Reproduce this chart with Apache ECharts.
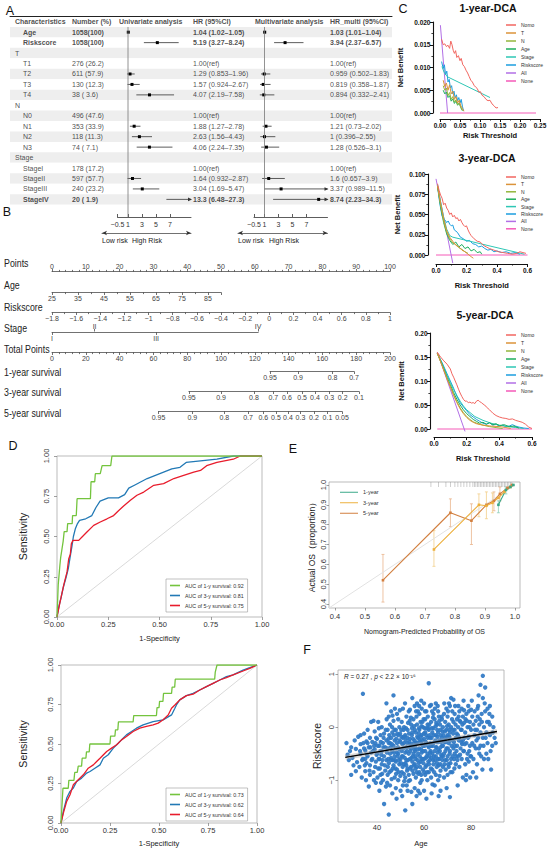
<!DOCTYPE html>
<html>
<head>
<meta charset="UTF-8">
<title>Prognostic model figure</title>
<script src="https://cdn.jsdelivr.net/npm/echarts@6/dist/echarts.min.js"></script>
<style>
  html, body { margin: 0; padding: 0; background: #fff; }
  #chart { width: 550px; height: 850px; }
</style>
</head>
<body>
<div id="chart"></div>
<script>
// ---- A: cox regression table ----
const rowNames = ['Age','Riskscore','T','T1','T2','T3','T4','N','N0','N1','N2','N3','Stage','StageI','StageII','StageIII','StageIV'];
const rowNumbers = ['1058(100)','1058(100)','','276 (26.2)','611 (57.9)','130 (12.3)','38 ( 3.6)','','496 (47.6)','353 (33.9)','118 (11.3)','74 ( 7.1)','','178 (17.2)','597 (57.7)','240 (23.2)','20 ( 1.9)'];
const boldRows = ['Age','Riskscore','StageIV'];
const refRows = ['T1','N0','StageI'];
const uniHR = [1.04,5.19,null,null,1.29,1.57,4.07,null,null,1.88,2.63,4.06,null,null,1.64,3.04,13.3];
const uniLo = [1.02,3.27,null,null,0.853,0.924,2.19,null,null,1.27,1.56,2.24,null,null,0.932,1.69,6.48];
const uniHi = [1.05,8.24,null,null,1.96,2.67,7.58,null,null,2.78,4.43,7.35,null,null,2.87,5.47,27.3];
const mulHR = [1.03,3.94,null,null,0.959,0.819,0.894,null,null,1.21,1,1.28,null,null,1.6,3.37,8.74];
const mulLo = [1.01,2.37,null,null,0.502,0.358,0.332,null,null,0.73,0.396,0.526,null,null,0.657,0.989,2.23];
const mulHi = [1.04,6.57,null,null,1.83,1.87,2.41,null,null,2.02,2.55,3.1,null,null,3.9,11.5,34.3];
const forestTicks = [-0.5,1,3,5,7];
const headers = ['Characteristics','Number (%)','Univariate analysis','HR (95%CI)','Multivariate analysis','HR_multi (95%CI)'];

// ---- B: nomogram ----
const nomoRows = ['Points','Age','Riskscore','Stage','Total Points','1-year survival','3-year survival','5-year survival'];
const ageRange = [25, 90];
const agePoints = 50;
const riskRange = [-1.8, 1];
const stageLabels = ['I','II','III','IV'];
const stagePoints = [0, 12.6, 30.8, 61];
const surv1Labels = ['0.95','0.9','0.8','0.7'];
const surv1Total = [129, 145.6, 166, 178.7];
const surv3Labels = ['0.95','0.9','0.8','0.7','0.6','0.5','0.4','0.3','0.2','0.1'];
const surv3Total = [81, 100, 119.5, 131, 139, 148, 155.6, 164, 172, 181.6];
const surv5Labels = ['0.95','0.9','0.8','0.7','0.6','0.5','0.4','0.3','0.2','0.1','0.05'];
const surv5Total = [63, 83, 102, 116, 125, 132.5, 139.6, 147, 155, 163, 171.6];

// ---- C: decision curves ----
const dcaNames = ['Nomo','T','N','Age','Stage','Riskscore','All','None'];
const dcaColors = ['#F26660','#DB933A','#93B63C','#1DAE5E','#2EC7B5','#1C9EDF','#B26FE6','#F55AB8'];
const d1Nomo = [[0.004,0.0162],[0.008,0.0150],[0.012,0.0152],[0.016,0.0146],[0.02,0.0149],[0.024,0.0142],[0.027,0.0158],[0.03,0.0150],[0.033,0.0138],[0.036,0.0131],[0.039,0.0137],[0.042,0.0122],[0.046,0.0126],[0.05,0.0115],[0.053,0.0120],[0.057,0.0106],[0.061,0.0102],[0.065,0.0094],[0.069,0.0088],[0.073,0.0080],[0.077,0.0072],[0.081,0.0068],[0.085,0.0061],[0.089,0.0057],[0.093,0.0054],[0.097,0.0046],[0.101,0.0047],[0.105,0.0039],[0.11,0.0036],[0.115,0.0030],[0.12,0.0027],[0.125,0.0028],[0.13,0.0020],[0.135,0.0016],[0.14,0.0011],[0.145,0.0012]];
const d1T = [[0.008,0.0072],[0.012,0.0058],[0.016,0.0066],[0.02,0.0050],[0.024,0.0062],[0.028,0.0042],[0.032,0.0048],[0.036,0.0030],[0.04,0.0036],[0.044,0.0022],[0.048,0.0028],[0.052,0.0016],[0.056,0.0010],[0.06,0.0004]];
const d1N = [[0.008,0.0060],[0.012,0.0050],[0.016,0.0055],[0.02,0.0038],[0.024,0.0045],[0.028,0.0030],[0.032,0.0036],[0.036,0.0024],[0.04,0.0029],[0.044,0.0018],[0.048,0.0022],[0.052,0.0012],[0.056,0.0006]];
const d1Age = [[0.008,0.0050],[0.012,0.0042],[0.016,0.0046],[0.02,0.0034],[0.024,0.0038],[0.028,0.0026],[0.032,0.0031],[0.036,0.0021],[0.04,0.0026],[0.044,0.0017],[0.048,0.0022],[0.052,0.0012],[0.056,0.0005]];
const d1Stage = [[0.005,0.0102],[0.01,0.0090],[0.015,0.0083],[0.02,0.0079],[0.125,0.0034]];
const d1Risk = [[0.004,0.0113],[0.008,0.0098],[0.011,0.0106],[0.014,0.0084],[0.017,0.0092],[0.02,0.0068],[0.023,0.0074],[0.026,0.0055],[0.029,0.0060],[0.032,0.0042],[0.035,0.0048],[0.038,0.0033],[0.041,0.0040],[0.044,0.0027],[0.047,0.0034],[0.05,0.0022],[0.053,0.0030],[0.056,0.0015],[0.059,0.0004]];
const d1All = [[0.001,0.0193],[0.019,0]];
const d1None = [[0,0],[0.24,0]];

const d3Nomo = [[0.01,0.088],[0.02,0.08],[0.03,0.074],[0.04,0.07],[0.05,0.062],[0.06,0.064],[0.07,0.058],[0.08,0.055],[0.09,0.05],[0.1,0.052],[0.11,0.047],[0.12,0.049],[0.13,0.045],[0.14,0.046],[0.15,0.042],[0.16,0.044],[0.17,0.04],[0.18,0.037],[0.19,0.035],[0.2,0.036],[0.21,0.031],[0.22,0.027],[0.23,0.024],[0.25,0.02],[0.27,0.017],[0.29,0.016],[0.31,0.012],[0.33,0.01],[0.35,0.008],[0.38,0.006],[0.41,0.004],[0.44,0.003],[0.47,0.002],[0.5,0.001],[0.53,0.002],[0.55,0.004],[0.57,0.003],[0.59,0.002]];
const d3T = [[0.01,0.085],[0.03,0.064],[0.05,0.045],[0.07,0.03],[0.09,0.022],[0.11,0.017],[0.13,0.012],[0.15,0.01],[0.17,0.006],[0.19,0.004],[0.21,0.001],[0.23,-0.002],[0.245,-0.004]];
const d3N = [[0.01,0.085],[0.03,0.062],[0.05,0.042],[0.07,0.028],[0.09,0.02],[0.11,0.015],[0.13,0.013],[0.15,0.009],[0.17,0.007],[0.19,0.004],[0.21,0.002]];
const d3Age = [[0.01,0.085],[0.03,0.06],[0.05,0.04],[0.07,0.026],[0.09,0.018],[0.11,0.013],[0.13,0.016],[0.15,0.01],[0.17,0.013],[0.19,0.008],[0.21,0.01],[0.23,0.005],[0.25,0.007],[0.27,0.003],[0.29,0.004],[0.3,0.001]];
const d3Stage = [[0.01,0.087],[0.03,0.066],[0.05,0.047],[0.07,0.032],[0.09,0.024],[0.11,0.022],[0.58,0.001]];
const d3Risk = [[0.01,0.085],[0.02,0.07],[0.03,0.058],[0.04,0.048],[0.05,0.045],[0.06,0.043],[0.07,0.04],[0.08,0.042],[0.09,0.038],[0.1,0.036],[0.11,0.037],[0.12,0.031],[0.14,0.028],[0.16,0.022],[0.18,0.02],[0.2,0.017],[0.22,0.018],[0.24,0.014],[0.26,0.013],[0.28,0.01],[0.3,0.011],[0.32,0.008],[0.34,0.006],[0.36,0.007],[0.38,0.004],[0.4,0.005],[0.43,0.003],[0.46,0.004],[0.49,0.002],[0.52,0.003],[0.55,0.001]];
const d3All = [[0,0.094],[0.11,-0.01]];
const d3None = [[0,0],[0.6,0]];

const d5Nomo = [[0.02,0.16],[0.04,0.15],[0.06,0.142],[0.08,0.135],[0.1,0.125],[0.11,0.115],[0.12,0.108],[0.13,0.1],[0.14,0.092],[0.15,0.083],[0.16,0.075],[0.17,0.068],[0.18,0.062],[0.19,0.058],[0.2,0.058],[0.21,0.055],[0.22,0.056],[0.23,0.054],[0.24,0.055],[0.25,0.053],[0.26,0.058],[0.27,0.06],[0.28,0.057],[0.29,0.055],[0.3,0.052],[0.31,0.05],[0.32,0.046],[0.34,0.04],[0.36,0.033],[0.38,0.028],[0.4,0.025],[0.42,0.023],[0.44,0.022],[0.46,0.02],[0.48,0.021],[0.5,0.018],[0.52,0.016],[0.54,0.014],[0.56,0.01],[0.58,0.004],[0.6,0.001]];
const d5T = [[0.02,0.158],[0.05,0.132],[0.08,0.104],[0.1,0.088],[0.12,0.07],[0.14,0.055],[0.16,0.042],[0.18,0.032],[0.2,0.024],[0.22,0.018],[0.24,0.014],[0.26,0.011],[0.3,0.008],[0.35,0.006],[0.4,0.005],[0.44,0.003],[0.47,0.001]];
const d5N = [[0.02,0.158],[0.05,0.132],[0.08,0.105],[0.1,0.089],[0.12,0.072],[0.14,0.057],[0.16,0.044],[0.18,0.034],[0.2,0.026],[0.22,0.02],[0.24,0.015],[0.27,0.011],[0.3,0.008],[0.34,0.005],[0.38,0.003],[0.42,0.001]];
const d5Age = [[0.02,0.158],[0.05,0.134],[0.08,0.108],[0.1,0.092],[0.12,0.076],[0.14,0.062],[0.16,0.05],[0.18,0.04],[0.2,0.032],[0.22,0.026],[0.24,0.02],[0.26,0.016],[0.28,0.012],[0.3,0.014],[0.32,0.01],[0.34,0.013],[0.36,0.009],[0.38,0.011],[0.4,0.007],[0.43,0.009],[0.46,0.005],[0.49,0.006],[0.52,0.002]];
const d5Stage = [[0.02,0.158],[0.05,0.136],[0.08,0.112],[0.1,0.097],[0.12,0.082],[0.14,0.07],[0.16,0.058],[0.18,0.048],[0.2,0.04],[0.25,0.026],[0.3,0.018],[0.35,0.012],[0.4,0.008],[0.45,0.005],[0.5,0.003],[0.55,0.001]];
const d5Risk = [[0.02,0.158],[0.05,0.138],[0.08,0.115],[0.1,0.1],[0.12,0.085],[0.14,0.068],[0.16,0.055],[0.18,0.046],[0.2,0.038],[0.22,0.03],[0.24,0.025],[0.26,0.02],[0.28,0.016],[0.3,0.012],[0.32,0.01],[0.34,0.013],[0.36,0.008],[0.38,0.01],[0.4,0.006],[0.42,0.008],[0.44,0.005],[0.46,0.006],[0.48,0.009],[0.5,0.006],[0.52,0.004],[0.55,0.002],[0.58,0.001]];
const d5All = [[0.02,0.16],[0.19,-0.005]];
const d5None = [[0.02,0],[0.6,0]];

// ---- D: ROC curves ----
const rocNames1 = ['AUC of 1-y survival: 0.92','AUC of 3-y survival: 0.81','AUC of 5-y survival: 0.75'];
const rocNames2 = ['AUC of 1-y survival: 0.73','AUC of 3-y survival: 0.62','AUC of 5-y survival: 0.64'];
const rocColors = ['#74C43E','#2279B5','#E81C2C'];
const roc1G = [[0,0],[0.003,0.1],[0.006,0.2],[0.01,0.26],[0.014,0.32],[0.018,0.37],[0.024,0.42],[0.03,0.47],[0.035,0.53],[0.049,0.53],[0.052,0.58],[0.074,0.58],[0.076,0.63],[0.094,0.63],[0.098,0.735],[0.163,0.735],[0.166,0.84],[0.184,0.84],[0.187,0.89],[0.211,0.89],[0.22,0.94],[0.262,0.94],[0.268,1],[1,1]];
const roc1B = [[0,0],[0.01,0.07],[0.02,0.12],[0.03,0.18],[0.045,0.25],[0.055,0.3],[0.065,0.38],[0.073,0.44],[0.08,0.5],[0.09,0.55],[0.1,0.58],[0.11,0.6],[0.14,0.61],[0.17,0.63],[0.19,0.68],[0.21,0.72],[0.25,0.74],[0.3,0.74],[0.33,0.76],[0.35,0.8],[0.38,0.82],[0.41,0.84],[0.44,0.86],[0.48,0.88],[0.52,0.9],[0.56,0.92],[0.6,0.93],[0.63,0.96],[0.7,0.97],[0.78,0.98],[0.86,1],[1,1]];
const roc1R = [[0,0],[0.016,0.1],[0.033,0.2],[0.049,0.28],[0.057,0.36],[0.065,0.39],[0.07,0.455],[0.078,0.476],[0.106,0.476],[0.122,0.497],[0.146,0.528],[0.179,0.569],[0.211,0.59],[0.244,0.61],[0.276,0.63],[0.3,0.66],[0.325,0.69],[0.358,0.725],[0.39,0.756],[0.423,0.776],[0.472,0.818],[0.52,0.828],[0.57,0.86],[0.618,0.88],[0.667,0.9],[0.7,0.91],[0.73,0.94],[0.78,0.96],[0.86,0.98],[0.894,1],[1,1]];
const roc2G = [[0,0],[0.01,0.22],[0.037,0.22],[0.04,0.27],[0.066,0.27],[0.07,0.32],[0.083,0.32],[0.088,0.36],[0.105,0.36],[0.108,0.41],[0.127,0.41],[0.13,0.45],[0.144,0.45],[0.147,0.5],[0.25,0.5],[0.253,0.55],[0.275,0.55],[0.278,0.59],[0.29,0.59],[0.293,0.64],[0.368,0.64],[0.371,0.68],[0.487,0.68],[0.49,0.73],[0.5,0.73],[0.503,0.77],[0.52,0.77],[0.523,0.82],[0.564,0.82],[0.567,0.86],[0.58,0.86],[0.583,0.91],[0.784,0.91],[0.787,0.955],[0.796,1],[1,1]];
const roc2B = [[0,0],[0.012,0.074],[0.029,0.158],[0.046,0.2],[0.063,0.221],[0.08,0.263],[0.105,0.284],[0.131,0.316],[0.148,0.326],[0.173,0.347],[0.199,0.368],[0.216,0.41],[0.241,0.432],[0.267,0.474],[0.292,0.505],[0.317,0.537],[0.334,0.558],[0.36,0.579],[0.385,0.6],[0.419,0.621],[0.47,0.642],[0.521,0.653],[0.564,0.684],[0.581,0.726],[0.589,0.747],[0.606,0.779],[0.64,0.806],[0.674,0.821],[0.708,0.842],[0.742,0.863],[0.776,0.884],[0.81,0.905],[0.844,0.926],[0.878,0.937],[0.929,0.968],[0.963,0.983],[1,1]];
const roc2R = [[0,0],[0.012,0.063],[0.029,0.137],[0.046,0.179],[0.063,0.242],[0.088,0.274],[0.114,0.305],[0.139,0.347],[0.165,0.368],[0.182,0.389],[0.199,0.41],[0.233,0.453],[0.258,0.474],[0.284,0.495],[0.309,0.526],[0.334,0.547],[0.368,0.579],[0.402,0.6],[0.436,0.611],[0.47,0.621],[0.496,0.632],[0.521,0.653],[0.547,0.684],[0.564,0.726],[0.581,0.747],[0.606,0.779],[0.64,0.806],[0.674,0.815],[0.708,0.842],[0.742,0.863],[0.776,0.884],[0.81,0.905],[0.844,0.92],[0.878,0.937],[0.929,0.962],[0.963,0.979],[1,1]];

// ---- E: calibration ----
const calNames = ['1-year','3-year','5-year'];
const calColors = ['#3AA888','#EDB03E','#D27F3F'];
const calErrColors = ['#8FCFBA','#F3CF8A','#E9B48C'];
const cal1Pts = [[0.945,0.9],[0.97,0.975],[0.985,0.99],[0.995,1.0]];
const cal1Err = [[0.945,0.86,0.92],[0.97,0.955,0.99]];
const cal3Pts = [[0.73,0.675],[0.88,0.9],[0.905,0.895],[0.925,0.91],[0.945,0.935],[0.965,0.965],[0.985,0.99]];
const cal3Err = [[0.73,0.59,0.77],[0.88,0.84,0.955],[0.905,0.83,0.965],[0.925,0.86,0.96]];
const cal5Pts = [[0.56,0.52],[0.785,0.86],[0.855,0.82],[0.905,0.9],[0.93,0.92],[0.95,0.955],[0.975,0.985],[0.99,1.0]];
const cal5Err = [[0.56,0.41,0.65],[0.785,0.79,0.93],[0.855,0.70,0.905],[0.93,0.87,0.965],[0.95,0.92,0.99]];
const calRug = [0.72,0.745,0.77,0.785,0.8,0.81,0.82,0.83,0.84,0.85,0.86,0.865,0.87,0.875,0.88,0.885,0.89,0.895,0.9,0.905,0.91,0.915,0.92,0.925,0.93,0.935,0.94,0.945,0.95,0.955,0.96,0.965,0.97,0.975,0.98,0.985,0.99];
const calTicks = [0.4,0.5,0.6,0.7,0.8,0.9,1.0];

// ---- F: age vs riskscore ----
const fitLine = [[26.5,-0.57],[91,-0.08]];
const agePoints2 = [
[27,-0.3],[27.5,-0.52],[28,-0.62],[28.5,-0.45],[29,-0.9],[29.5,-0.58],[30,-0.72],[30.5,-0.25],[31,-0.41],[31.5,-0.66],[29,-0.38],[31,-0.83],
[32,-0.18],[32.5,-0.75],[33,-0.5],[33,-0.32],[33.5,-0.95],[34,-0.6],[34,0.63],[34.5,-0.12],[35,-0.44],[35,-0.83],[35.5,-0.27],[35.5,-0.68],[36,-0.05],[36,-0.55],[36.5,-0.38],[36.5,-1.12],[37,-0.2],[37,-0.72],[37.5,-0.48],[37.5,0.1],[37,-0.9],[36,-0.3],[34.5,-0.4],[33,-0.15],[35,-0.6],
[38,-0.6],[38,-0.28],[38.5,0.12],[38.5,-0.85],[39,-0.42],[39,-0.08],[39.5,-0.65],[39.5,-1.05],[40,-0.22],[40,-0.5],[40.5,0.1],[40.5,-0.78],[41,-0.35],[41,-0.6],[41,-1.2],[41.5,-0.15],[41.5,-0.9],[42,0.0],[42,-0.45],[42,-0.7],[42.5,-0.3],[42.5,-1.0],[43,-0.55],[43,-0.12],[43,-1.45],[43.5,-0.38],[43.5,-0.82],[44,-0.25],[44,-0.62],[44,0.45],[38.8,-0.35],[39.2,-0.75],[40.2,-0.95],[40.8,-0.02],[41.8,-0.52],[42.8,-0.2],[43.8,-1.12],[39.6,-0.2],[41.2,-0.78],[42.2,-0.88],
[44.5,-0.4],[44.5,-0.05],[44.5,-0.9],[45,-1.65],[45,-0.3],[45,-0.68],[45,0.2],[45.5,-0.5],[45.5,-1.1],[45.5,0.05],[46,-0.2],[46,-0.58],[46,-0.82],[46,0.3],[46.5,-0.45],[46.5,-1.25],[46.5,-0.1],[47,0.6],[47,-0.35],[47,-0.72],[47,0.12],[47.5,-0.55],[47.5,-0.95],[47.5,-0.25],[48,-0.05],[48,-0.4],[48,-0.65],[48,-1.15],[48.5,0.25],[48.5,-0.3],[48.5,-0.8],[49,-0.15],[49,-0.5],[49,-1.0],[49,0.15],[49.5,-0.42],[49.5,-0.7],[49.5,0.0],[50,-0.28],[50,-0.6],[50,-1.2],[44.8,-0.6],[45.2,-0.15],[45.8,-0.38],[46.2,-0.98],[46.8,-0.62],[47.2,-0.15],[47.8,-0.78],[48.2,-0.22],[48.8,-0.55],[49.2,-0.85],[49.8,-0.12],[46.4,0.0],[48.4,-0.48],[47.6,0.35],
[50.5,-0.45],[50.5,0.1],[50.5,-0.85],[51,-0.2],[51,-0.55],[51,-1.1],[51,0.35],[51.5,-0.3],[51.5,-0.7],[51.5,0.0],[52,-1.57],[52,-0.15],[52,-0.48],[52,-0.95],[52.5,0.2],[52.5,-0.38],[52.5,-0.62],[53,-0.05],[53,-0.3],[53,-0.78],[53,-1.2],[53.5,0.3],[53.5,-0.5],[53.5,-0.9],[54,-0.22],[54,0.33],[54,-0.6],[54,-1.0],[54.5,0.05],[54.5,-0.4],[54.5,-0.75],[55,0.55],[55,-0.1],[55,-0.35],[55,-1.45],[55,-0.65],[55.5,0.15],[55.5,-0.5],[55.5,-0.88],[56,-0.25],[56,0.4],[56,-0.7],[56,-1.15],[50.8,-0.32],[51.3,-0.05],[51.8,-0.58],[52.2,-0.25],[52.8,-0.82],[53.2,0.08],[53.8,-0.28],[54.2,-0.45],[54.8,-0.15],[55.2,-0.55],[55.8,0.02],[50.2,-0.68],[51.6,-1.02],[52.6,-1.1],[53.6,-0.12],[54.6,-1.22],[55.6,-0.3],[50.4,-0.18],[52.4,-0.72],[54.4,0.18],[56.2,-0.45],
[56.5,-0.1],[56.5,-0.55],[56.5,-0.95],[57,0.05],[57,-0.3],[57,-0.75],[57,0.45],[57.5,-0.2],[57.5,-0.5],[57.5,-1.2],[58,0.25],[58,-0.05],[58,-0.4],[58,-0.85],[58.5,0.1],[58.5,-0.28],[58.5,-0.65],[59,-0.15],[59,-0.48],[59,-1.0],[59,0.35],[59.5,0.0],[59.5,-0.35],[59.5,-0.8],[60,0.45],[60,-0.22],[60,-0.6],[60,-1.2],[60.5,0.15],[60.5,-0.1],[60.5,-0.45],[60.5,-0.9],[61,-0.3],[61,-0.72],[61,0.3],[61,-1.35],[61.5,0.05],[61.5,-0.5],[61.5,-0.2],[62,0.83],[62,-0.05],[62,-0.38],[62,-0.85],[56.8,0.2],[57.2,-0.62],[57.8,-0.12],[58.2,-0.55],[58.8,-0.9],[59.2,-0.25],[59.8,0.15],[60.2,-0.35],[60.8,-0.58],[61.2,-0.02],[61.8,-0.65],[56.2,-0.38],[57.4,0.3],[58.4,-1.05],[59.4,-0.6],[60.4,0.3],[61.4,-1.0],[59.6,-0.45],[58.6,-0.18],[57.6,-0.88],[60.6,-0.75],[61.6,0.2],[56.4,-0.78],[58.9,0.02],[60.9,-0.15],[62.2,-0.55],[57.9,0.4],
[62.5,0.4],[62.5,-0.2],[62.5,-0.62],[63,0.1],[63,-0.35],[63,-0.95],[63,0.42],[63.5,-0.1],[63.5,-0.5],[63.5,-0.8],[64,0.25],[64,-0.02],[64,-0.3],[64,-0.7],[64.5,0.15],[64.5,-0.45],[64.5,-1.1],[65,0.45],[65,-0.15],[65,-0.55],[65,-0.9],[65.5,0.05],[65.5,-0.28],[65.5,-0.68],[66,0.3],[66,-0.1],[66,-0.42],[66,-1.0],[66.5,0.12],[66.5,-0.25],[66.5,-0.6],[67,-0.05],[67,-0.38],[67,-0.82],[67,-1.2],[67.5,0.2],[67.5,-0.2],[67.5,-0.55],[68,0.0],[68,-0.35],[68,-0.75],[62.8,-0.45],[63.2,-0.2],[63.8,0.18],[64.2,-0.55],[64.8,-0.25],[65.2,0.08],[65.8,-0.48],[66.2,-0.72],[66.8,0.05],[67.2,-0.28],[67.8,-0.62],[62.2,0.05],[63.6,-1.08],[64.6,0.35],[65.6,-0.05],[66.6,-0.92],[67.6,0.15],[62.7,-0.3],[65.3,-0.38],[68.2,-0.15],
[68.5,0.25],[68.5,-0.5],[68.5,-0.95],[69,0.1],[69,-0.2],[69,-0.62],[69.5,0.35],[69.5,-0.05],[69.5,-0.4],[70,0.2],[70,-0.15],[70,-0.55],[70,-0.9],[70.5,0.05],[70.5,-0.3],[70.5,-0.75],[71,0.4],[71,-0.1],[71,-0.45],[71,-1.32],[71.5,0.55],[71.5,0.0],[71.5,-0.6],[72,0.3],[72,-0.25],[72,-0.85],[72.5,0.52],[72.5,0.1],[72.5,-0.4],[73,-0.05],[73,-0.5],[73,0.25],[73.5,-0.2],[73.5,-0.7],[74,0.15],[74,-0.35],[68.8,-0.28],[69.2,-0.8],[69.8,0.02],[70.8,-0.18],[71.2,-0.68],[72.2,-0.05],[72.8,-0.6],[73.2,0.4],[73.8,-0.45],[70.2,0.3],
[74.5,0.0],[74.5,-0.55],[75,0.3],[75,-0.2],[75,-0.75],[75.5,0.1],[75.5,-0.4],[76,0.35],[76,-0.05],[76,-0.6],[76.5,0.2],[76.5,-0.25],[76.5,-0.95],[77,0.08],[77,-0.45],[77,0.32],[77.5,-0.1],[77.5,-0.7],[78,0.25],[78,-0.3],[78,-0.9],[78.5,0.0],[78.5,-0.5],[79,0.3],[79,-0.18],[79,-0.65],[79.5,0.1],[79.5,-0.35],[80,0.33],[80,-0.05],[80,-0.55],[75.2,0.12],[76.2,-0.32],[77.2,-0.2],[78.2,0.12],[79.2,-0.45],[74.8,-0.25],[77.8,-1.0],
[80.5,0.2],[80.5,-0.3],[81,0.05],[81,-0.6],[81.5,0.3],[81.5,-0.15],[82,-0.4],[82,0.12],[82.5,-0.05],[82.5,-0.7],[83,0.4],[83,-0.2],[83.5,0.05],[83.5,-0.5],[84,0.8],[84,-0.1],[84,-0.35],[84.5,0.25],[85,0.97],[85,0.55],[85,-0.2],[85.5,0.0],[85.5,-0.6],[86,0.75],[86,0.3],[80.8,-0.85],[82.8,0.2],[84.8,-0.8],
[86.5,-0.1],[87,0.35],[87,-0.3],[87.5,0.1],[88,0.4],[88,-0.15],[88.5,-0.8],[89,0.2],[89,-0.35],[89.5,0.0],[90,-0.2],[90.5,-0.3],[86.5,-0.5],[88,0.05],
[42.3,-0.62],[42.7,-0.38],[43.3,-0.72],[43.7,-0.05],[44.2,-0.48],[44.6,-0.75],[44.9,-0.22],[45.3,-0.85],[45.6,-0.3],[45.9,-0.62],[46.3,-0.32],[46.7,-0.78],[47.1,-0.48],[47.4,-0.05],[47.7,-0.62],[48.1,-0.88],[48.6,-0.12],[48.9,-0.38],[49.3,-0.62],[49.6,-0.25],[49.9,-0.92],[50.3,-0.05],[50.6,-0.55],[50.9,-0.75],[51.2,-0.4],[51.4,-0.88],[51.7,-0.18],[52.1,-0.68],[52.3,-0.02],[52.7,-0.45],[52.9,-0.2],[53.1,-0.62],[53.4,-1.02],[53.7,-0.38],[53.9,0.12],[54.1,-0.78],[54.3,-0.32],[54.7,-0.58],[54.9,-0.02],[55.1,-0.82],[55.3,-0.22],[55.7,-0.72],[55.9,-0.42],[56.1,-0.05],[56.3,-0.6],[56.7,-0.3],[56.9,-0.85],[57.1,-0.18],[57.3,-0.42],[57.7,-0.68],[57.9,-0.02],[58.1,-0.25],[58.3,-0.75],[58.7,-0.42],[58.9,-0.6],[59.1,-0.32],[59.3,0.1],[59.7,-0.68],[59.9,-0.12],[60.1,-0.85],[60.3,-0.02],[60.7,-0.28],[61.1,-0.55],[61.3,-0.85],[61.7,-0.35],[61.9,-0.02],[62.1,-0.7],[62.4,-0.15],[62.6,-0.48],[62.9,-0.78],[63.1,-0.58],[63.3,-0.02],[63.7,-0.35],[63.9,-0.62],[64.1,-0.15],[64.3,-0.85],[64.7,-0.62],[64.9,0.02],[65.1,-0.38],[65.4,-0.75],[65.7,-0.18],[65.9,-0.6],[66.1,-0.28],[66.3,0.2],[66.7,-0.45],[66.9,-0.7],[67.1,-0.15],[67.3,-0.52],[67.7,-0.35],[67.9,-0.08],[68.1,-0.55],[68.3,-0.25],[68.7,-0.7],[68.9,-0.08],[69.1,-0.45],[69.3,-0.28],[69.7,-0.62],[69.9,-0.18],[70.1,-0.4],[70.3,-0.7],[70.7,-0.05],[70.9,-0.5],[71.1,-0.25],[71.3,-0.85],[71.7,-0.35],[71.9,0.15],[72.1,-0.55],[72.4,-0.12],[72.7,-0.28],[72.9,-0.78],[73.1,-0.35],[73.4,0.05],[73.7,-0.55],[73.9,-0.12],[74.2,-0.62],[74.4,-0.15],[74.7,0.2],[75.3,-0.52],[75.7,-0.05],[75.9,-0.28],[76.3,0.05],[76.7,-0.45],[77.3,-0.32],[77.6,0.15],[78.3,-0.6],[78.7,-0.2],[79.3,0.0],[79.7,-0.55],
[40.3,-0.35],[40.7,-0.6],[41.4,-0.45],[41.6,-0.28],[39.8,-0.52],[39.3,-0.3],[38.3,-0.45],[37.7,-0.62],[37.2,-0.38],[36.8,-0.82],[35.8,-0.52],[34.8,-0.72],[34.2,-0.3],[33.7,-0.62],[32.8,-0.45],
[81.3,-0.35],[81.7,-0.05],[82.3,-0.25],[82.7,0.35],[83.3,-0.4],[83.7,0.15],[84.3,-0.55],[84.6,0.1],[85.3,-0.35],[86.2,-0.2],[86.8,0.1],[87.3,-0.6],[87.8,0.25],[88.3,-0.45],[89.2,-0.1],[85.8,0.45],[83.2,0.6],
[44.1,0.15],[46.6,0.22],[49.7,0.32],[51.9,0.45],[56.6,0.3],[58.8,0.5],[63.4,0.3],[65.8,0.4],[68.6,0.45],[70.6,0.45],[74.6,0.4],[76.8,0.5],[78.8,0.4],[80.3,0.5],
[48.3,-1.35],[50.7,-1.3],[56.8,-1.3],[58.2,-1.25],[63.2,-1.25],[66.2,-1.3],[69.6,-1.15],[74.3,-1.1],[79.6,-0.95],[44.3,-1.05],[41.7,-1.05],[38.7,-1.0],[35.3,-1.0],[82.2,-0.95]
];

const FONT = '"Liberation Sans", Arial, sans-serif';

let grids = [], xAxis = [], yAxis = [], series = [], legend = [], graphic = [];
const hidden = {type: 'value', show: false, min: 0, max: 1};

function merge(a, b) {
    let out = Object.assign({}, a);
    for (let k in b) {
        let v = b[k];
        if (v && typeof v === 'object' && !Array.isArray(v) && a[k] && typeof a[k] === 'object' && !Array.isArray(a[k])) out[k] = merge(a[k], v);
        else out[k] = v;
    }
    return out;
}
function addGrid(box, xa, ya) {
    grids.push(Object.assign({outerBoundsMode: 'none'}, box));
    let gi = grids.length - 1;
    xAxis.push(Object.assign({gridIndex: gi}, xa));
    yAxis.push(Object.assign({gridIndex: gi}, ya));
    return {g: gi, x: xAxis.length - 1, y: yAxis.length - 1};
}
function txt(x, y, s, o, el) {
    graphic.push(Object.assign({type: 'text', x: x, y: y, silent: true,
        style: Object.assign({text: s, fontSize: 7, fontFamily: FONT, fill: '#222', align: 'left', verticalAlign: 'middle', textAlign: 'left', textVerticalAlign: 'middle'}, o || {})}, el || {}));
}
function lookup(pos, labels) {
    return function (v) {
        let best = 0;
        pos.forEach((p, i) => { if (Math.abs(p - v) < Math.abs(pos[best] - v)) best = i; });
        return labels[best];
    };
}
const minus = v => (v < 0 ? '\u2212' + String(-v) : String(v));

// panel letters
[['A', 10, 11], ['B', 7, 212], ['C', 403, 9], ['D', 13, 446], ['E', 293, 449], ['F', 307, 650]].forEach(l =>
    txt(l[1], l[2], l[0], {fontSize: 12.5, align: 'center', textAlign: 'center', fill: '#111'}));

// ===== A: table =====
const ROW_H = 10.45, TAB_TOP = 16.5;
const tab = addGrid({left: 10, width: 382, top: TAB_TOP, height: ROW_H * 18},
    {type: 'value', min: 10, max: 392, position: 'top', axisLine: {show: true, onZero: false, lineStyle: {color: '#222', width: 1}},
        axisTick: {show: false}, axisLabel: {show: false}, splitLine: {show: false}},
    {type: 'category', inverse: true, data: ['head'].concat(rowNames), axisLine: {show: false}, axisTick: {show: false, interval: 0},
        axisLabel: {show: false, interval: 0}, splitLine: {show: false},
        splitArea: {show: true, interval: 0, areaStyle: {color: ['#ffffff', '#eeeeee']}}});

function column(items) {
    series.push({type: 'scatter', xAxisIndex: tab.x, yAxisIndex: tab.y, symbolSize: 0, silent: true, z: 5,
        data: items.map(it => ({value: [it.x, it.row], name: it.text, label: {fontWeight: it.bold ? 'bold' : 'normal'}})),
        label: {show: true, position: 'right', distance: 0, formatter: p => p.name, fontSize: 7, fontFamily: FONT, color: '#222'}});
}
const headX = [15, 72, 119, 193, 255, 330];
column(headers.map((h, j) => ({x: headX[j], row: 0, text: h, bold: true})));
const hrText = (name, h, l, u) => refRows.includes(name) ? '1.00(ref)' : (h === null ? '' : h + ' (' + l + '\u2013' + u + ')');
column(rowNames.map((n, i) => ({x: rowNumbers[i] === '' ? 15 : 23, row: i + 1, text: n, bold: boldRows.includes(n)})));
column(rowNumbers.map((n, i) => ({x: 72, row: i + 1, text: n, bold: boldRows.includes(rowNames[i])})));
column(rowNames.map((n, i) => ({x: 193, row: i + 1, text: hrText(n, uniHR[i], uniLo[i], uniHi[i]), bold: boldRows.includes(n)})));
column(rowNames.map((n, i) => ({x: 330, row: i + 1, text: hrText(n, mulHR[i], mulLo[i], mulHi[i]), bold: boldRows.includes(n)})));

const FOREST_TOP = TAB_TOP + ROW_H, FOREST_H = 217 - FOREST_TOP;
function forest(left, hr, lo, hi) {
    const ymax = FOREST_H / ROW_H, xmax = 10;
    const f = addGrid({left: left, width: 73.5, top: FOREST_TOP, height: FOREST_H},
        {type: 'value', min: -0.5, max: xmax, axisLine: {show: true, onZero: false, lineStyle: {color: '#333', width: 0.8}},
            axisTick: {show: true, inside: true, length: 3, customValues: forestTicks, lineStyle: {color: '#333', width: 0.8}},
            axisLabel: {customValues: forestTicks, fontSize: 7, color: '#333', fontFamily: FONT, margin: 4, formatter: minus},
            splitLine: {show: false}},
        {type: 'value', min: 0, max: ymax, inverse: true, show: false});
    series.push({type: 'line', xAxisIndex: f.x, yAxisIndex: f.y, data: [[1, 0], [1, ymax]], symbol: 'none', silent: true,
        lineStyle: {color: '#777', width: 0.8}});
    let data = [];
    hr.forEach((h, i) => { if (h !== null) data.push([i, h, lo[i], hi[i]]); });
    series.push({type: 'custom', xAxisIndex: f.x, yAxisIndex: f.y, silent: true, encode: {x: 1, y: 0}, data: data,
        renderItem: function (params, api) {
            const r = api.value(0) + 0.5, h = api.value(1), l = api.value(2), u = api.value(3);
            const a = api.coord([l, r]), b = api.coord([Math.min(u, xmax), r]);
            const y = a[1];
            let ch = [{type: 'line', shape: {x1: a[0], y1: y, x2: b[0], y2: y}, style: {stroke: '#333', lineWidth: 0.8}}];
            if (u > xmax) ch.push({type: 'polygon', shape: {points: [[b[0] + 1, y], [b[0] - 3, y - 1.8], [b[0] - 3, y + 1.8]]}, style: {fill: '#333'}});
            if (h <= xmax) {
                const c = api.coord([h, r]);
                ch.push({type: 'rect', shape: {x: c[0] - 1.5, y: y - 1.5, width: 3, height: 3}, style: {fill: '#000'}});
            }
            return {type: 'group', children: ch};
        }});
}
forest(117.5, uniHR, uniLo, uniHi);
forest(254, mulHR, mulLo, mulHi);

function riskArrow(left, width, highX) {
    addGrid({left: left, width: width, top: 233, height: 1},
        {type: 'value', min: 0, max: 1, position: 'top', axisLine: {show: true, onZero: false, symbol: ['arrow', 'arrow'], symbolSize: [3.5, 5], lineStyle: {color: '#333', width: 0.7}},
            axisTick: {show: false}, axisLabel: {show: false}, splitLine: {show: false}}, hidden);
    txt(left, 240.5, 'Low risk', {fontSize: 7});
    txt(highX, 240.5, 'High Risk', {fontSize: 7});
}
riskArrow(102, 89, 132);
riskArrow(238, 89.5, 269);

// ===== B: nomogram =====
const NOMO_L = 52, NOMO_W = 338, PPT = NOMO_W / 200;
const NOMO_Y = [272, 292, 312, 332, 352, 371, 391, 411];
const nomoNameY = [263, 285, 307, 328, 349, 372, 392, 413];
nomoRows.forEach((n, i) => txt(4, nomoNameY[i], n, {fontSize: 10.5, fill: '#222'}, {scaleX: 0.84}));
const ink = {color: '#333', width: 0.7};
const nomoBase = {type: 'value', splitLine: {show: false}, axisLine: {show: true, onZero: false, lineStyle: ink},
    axisTick: {show: true, length: 2.5, lineStyle: ink}, axisLabel: {fontSize: 7, color: '#444', fontFamily: FONT, margin: 2}};
function nomoGrid(row, left, width, xa) {
    return addGrid({left: left, width: width, top: NOMO_Y[row] - 0.5, height: 1}, merge(nomoBase, xa), hidden);
}
nomoGrid(0, NOMO_L, NOMO_W, {min: 0, max: 100, interval: 10, position: 'top', minorTick: {show: true, splitNumber: 5, length: 1.6, lineStyle: ink}});
nomoGrid(1, NOMO_L, NOMO_W * agePoints / 100, {min: ageRange[0], max: ageRange[1], interval: 10, axisLabel: {showMaxLabel: false},
    minorTick: {show: true, splitNumber: 2, length: 1.6, lineStyle: ink}});
nomoGrid(2, NOMO_L, NOMO_W, {min: riskRange[0], max: riskRange[1], interval: 0.2,
    axisLabel: {formatter: v => minus(Math.round(v * 10) / 10)}, minorTick: {show: true, splitNumber: 2, length: 1.6, lineStyle: ink}});
const stg = nomoGrid(3, NOMO_L, NOMO_W * stagePoints[3] / 100, {min: 0, max: stagePoints[3],
    axisTick: {customValues: [stagePoints[0], stagePoints[2]]}, axisLabel: {customValues: [stagePoints[0], stagePoints[2]], formatter: lookup(stagePoints, stageLabels)}});
xAxis.push(merge(nomoBase, {gridIndex: stg.g, min: 0, max: stagePoints[3], position: 'top', axisLine: {show: false},
    axisTick: {customValues: [stagePoints[1], stagePoints[3]]}, axisLabel: {customValues: [stagePoints[1], stagePoints[3]], formatter: lookup(stagePoints, stageLabels)}}));
nomoGrid(4, NOMO_L, NOMO_W, {min: 0, max: 200, interval: 20, minorTick: {show: true, splitNumber: 5, length: 1.6, lineStyle: ink}});
[[surv1Total, surv1Labels], [surv3Total, surv3Labels], [surv5Total, surv5Labels]].forEach((s, k) => {
    const pos = s[0], first = pos[0], last = pos[pos.length - 1];
    nomoGrid(5 + k, NOMO_L + first * PPT, (last - first) * PPT, {min: first, max: last,
        axisTick: {customValues: pos}, axisLabel: {customValues: pos, formatter: lookup(pos, s[1])}});
});

// ===== C: decision curves =====
function dca(box, xmax, xint, xdec, ymax, yint, ydec, xoff, yoff, xGap, yGap, sets, lgTop, lgGap) {
    const axisBold = {fontSize: 6.5, fontWeight: 'bold', color: '#111', fontFamily: FONT};
    const line = {show: true, onZero: false, lineStyle: {color: '#111', width: 1.1}};
    const tick = {show: true, length: 3, lineStyle: {color: '#111', width: 1}};
    const d = addGrid(box,
        {type: 'value', min: 0, max: xmax, interval: xint, offset: xoff, name: 'Risk Threshold', nameLocation: 'middle', nameGap: xGap,
            nameTextStyle: {fontSize: 7.5, fontWeight: 'bold', color: '#111', fontFamily: FONT},
            axisLine: line, axisTick: tick, minorTick: {show: true, splitNumber: 2, length: 1.6, lineStyle: {color: '#111', width: 0.8}},
            axisLabel: Object.assign({margin: 2.5, formatter: v => v.toFixed(xdec)}, axisBold), splitLine: {show: false}},
        {type: 'value', min: 0, max: ymax, interval: yint, offset: yoff, name: 'Net Benefit', nameLocation: 'middle', nameGap: yGap,
            nameTextStyle: {fontSize: 7.5, fontWeight: 'bold', color: '#111', fontFamily: FONT},
            axisLine: line, axisTick: tick, minorTick: {show: true, splitNumber: 2, length: 1.6, lineStyle: {color: '#111', width: 0.8}},
            axisLabel: Object.assign({margin: 2.5, formatter: v => v.toFixed(ydec)}, axisBold), splitLine: {show: false}});
    for (let i = dcaNames.length - 1; i >= 0; i--) {
        series.push({type: 'line', name: dcaNames[i], xAxisIndex: d.x, yAxisIndex: d.y, data: sets[i], symbol: 'none', clip: false,
            itemStyle: {color: dcaColors[i]}, lineStyle: {color: dcaColors[i], width: 1}});
    }
    legend.push({data: dcaNames, orient: 'vertical', left: 506, top: lgTop, itemWidth: 10, itemHeight: 1.5, itemGap: lgGap,
        icon: 'rect', padding: 0, selectedMode: false, textStyle: {fontSize: 5, lineHeight: 6, color: '#333', fontFamily: FONT}});
}
txt(488, 8, '1-year-DCA', {fontSize: 10.5, fontWeight: 'bold', align: 'center', textAlign: 'center', fill: '#111'});
txt(487, 158, '3-year-DCA', {fontSize: 10.5, fontWeight: 'bold', align: 'center', textAlign: 'center', fill: '#111'});
txt(485, 315, '5-year-DCA', {fontSize: 10.5, fontWeight: 'bold', align: 'center', textAlign: 'center', fill: '#111'});
dca({left: 440, top: 22, width: 100, height: 91}, 0.25, 0.05, 2, 0.02, 0.005, 3, 6, 7, 12, 29,
    [d1Nomo, d1T, d1N, d1Age, d1Stage, d1Risk, d1All, d1None], 22, 2);
dca({left: 436, top: 174, width: 91.5, height: 81}, 0.6, 0.2, 1, 0.1, 0.025, 3, 9, 8, 17, 27,
    [d3Nomo, d3T, d3N, d3Age, d3Stage, d3Risk, d3All, d3None], 174, 1.4);
dca({left: 434, top: 333, width: 98, height: 96}, 0.6, 0.2, 1, 0.2, 0.05, 2, 8, 4, 17, 25,
    [d5Nomo, d5T, d5N, d5Age, d5Stage, d5Risk, d5All, d5None], 332, 2);

// ===== D: ROC =====
function roc(box, sets, names, lgTop, yGap, xGap) {
    const tick = {show: true, length: 3, lineStyle: {color: '#777', width: 0.7}};
    const lab = {fontSize: 7.5, color: '#333', fontFamily: FONT, formatter: v => v.toFixed(2)};
    const r = addGrid(Object.assign({show: true, borderColor: '#aaa', borderWidth: 0.8, backgroundColor: 'transparent'}, box),
        {type: 'value', min: 0, max: 1, interval: 0.25, name: '1-Specificity', nameLocation: 'middle', nameGap: xGap,
            nameTextStyle: {fontSize: 7.5, color: '#222', fontFamily: FONT}, axisLine: {show: false}, axisTick: tick,
            axisLabel: Object.assign({margin: 3}, lab), splitLine: {show: false}},
        {type: 'value', min: 0, max: 1, interval: 0.25, name: 'Sensitivity', nameLocation: 'middle', nameGap: yGap,
            nameTextStyle: {fontSize: 10.5, color: '#222', fontFamily: FONT}, axisLine: {show: false}, axisTick: tick,
            axisLabel: Object.assign({margin: 7, rotate: 90}, lab), splitLine: {show: false}});
    series.push({type: 'line', xAxisIndex: r.x, yAxisIndex: r.y, data: [[0, 0], [1, 1]], symbol: 'none', silent: true,
        lineStyle: {color: '#cfcfcf', width: 0.8}});
    [1, 2, 0].forEach(i => series.push({type: 'line', name: names[i], xAxisIndex: r.x, yAxisIndex: r.y, data: sets[i], symbol: 'none',
        itemStyle: {color: rocColors[i]}, lineStyle: {color: rocColors[i], width: 1.3}}));
    legend.push({data: names, orient: 'vertical', left: 166, top: lgTop, itemWidth: 10, itemHeight: 1.6, itemGap: 3,
        icon: 'rect', padding: [3, 4, 3, 4], borderColor: '#999', borderWidth: 0.6, selectedMode: false,
        textStyle: {fontSize: 5.3, lineHeight: 7, color: '#333', fontFamily: FONT}});
}
roc({left: 57, top: 456, width: 205, height: 161}, [roc1G, roc1B, roc1R], rocNames1, 579, 29, 17);
roc({left: 61, top: 665, width: 196, height: 158}, [roc2G, roc2B, roc2R], rocNames2, 788, 33, 16);

// ===== E: calibration =====
const calTick = {show: true, length: 2.5, customValues: calTicks, lineStyle: {color: '#777', width: 0.7}};
const calLab = {customValues: calTicks, fontSize: 7.5, color: '#333', fontFamily: FONT, formatter: v => v.toFixed(1)};
const cal = addGrid({left: 329, top: 482, width: 191, height: 126, show: true, borderColor: '#aaa', borderWidth: 0.8, backgroundColor: 'transparent'},
    {type: 'value', min: 0.38, max: 1.017, name: 'Nomogram-Predicted Probability of OS', nameLocation: 'middle', nameGap: 20,
        nameTextStyle: {fontSize: 7, color: '#222', fontFamily: FONT}, axisLine: {show: false}, axisTick: calTick,
        axisLabel: Object.assign({margin: 4}, calLab), splitLine: {show: false}},
    {type: 'value', min: 0.38, max: 1.015, name: 'Actual OS\uff08proportion\uff09', nameLocation: 'middle', nameGap: 13,
        nameTextStyle: {fontSize: 8.5, color: '#222', fontFamily: FONT}, axisLine: {show: false}, axisTick: calTick,
        axisLabel: Object.assign({margin: 2, rotate: 90}, calLab), splitLine: {show: false}});
series.push({type: 'line', xAxisIndex: cal.x, yAxisIndex: cal.y, data: [[0.38, 0.38], [1, 1]], symbol: 'none', silent: true,
    lineStyle: {color: '#e2e2e2', width: 1}});
series.push({type: 'scatter', xAxisIndex: cal.x, yAxisIndex: cal.y, data: calRug.map(v => [v, 1.015]), symbol: 'rect',
    symbolSize: [0.5, 5], symbolOffset: [0, 2.5], silent: true, clip: false, itemStyle: {color: '#888'}});
function errBars(data, color) {
    return {type: 'custom', xAxisIndex: cal.x, yAxisIndex: cal.y, data: data, silent: true, encode: {x: 0, y: [1, 2]},
        renderItem: function (params, api) {
            const a = api.coord([api.value(0), api.value(1)]), b = api.coord([api.value(0), api.value(2)]);
            const st = {stroke: color, lineWidth: 0.8};
            return {type: 'group', children: [
                {type: 'line', shape: {x1: a[0], y1: a[1], x2: b[0], y2: b[1]}, style: st},
                {type: 'line', shape: {x1: a[0] - 1.5, y1: a[1], x2: a[0] + 1.5, y2: a[1]}, style: st},
                {type: 'line', shape: {x1: b[0] - 1.5, y1: b[1], x2: b[0] + 1.5, y2: b[1]}, style: st}]};
        }};
}
[cal5Err, cal3Err, cal1Err].forEach((e, k) => series.push(errBars(e, calErrColors[2 - k])));
[cal5Pts, cal3Pts, cal1Pts].forEach((p, k) => {
    const i = 2 - k;
    series.push({type: 'line', name: calNames[i], xAxisIndex: cal.x, yAxisIndex: cal.y, data: p, symbol: 'rect', symbolSize: 2.6,
        itemStyle: {color: calColors[i]}, lineStyle: {color: calColors[i], width: 1.1}});
});
legend.push({data: calNames, orient: 'vertical', left: 340, top: 489, itemWidth: 18, itemHeight: 1, itemGap: 4, icon: 'rect',
    padding: 0, selectedMode: false, textStyle: {fontSize: 5.5, lineHeight: 6.5, color: '#333', fontFamily: FONT}});

// ===== F: scatter =====
const fTick = {show: true, length: 2.5, lineStyle: {color: '#777', width: 0.7}};
const sc = addGrid({left: 338, top: 670, width: 166, height: 152, show: true, borderColor: '#aaa', borderWidth: 0.8, backgroundColor: 'transparent'},
    {type: 'value', min: 23.4, max: 94, name: 'Age', nameLocation: 'middle', nameGap: 17,
        nameTextStyle: {fontSize: 7.5, color: '#222', fontFamily: FONT}, axisLine: {show: false},
        axisTick: Object.assign({customValues: [40, 60, 80]}, fTick),
        axisLabel: {customValues: [40, 60, 80], fontSize: 7.5, color: '#333', fontFamily: FONT, margin: 1}, splitLine: {show: false}},
    {type: 'value', min: -1.79, max: 1.08, name: 'Riskscore', nameLocation: 'middle', nameGap: 16,
        nameTextStyle: {fontSize: 10.5, color: '#222', fontFamily: FONT}, axisLine: {show: false},
        axisTick: Object.assign({customValues: [-1, 0, 1]}, fTick),
        axisLabel: {customValues: [-1, 0, 1], rotate: 90, fontSize: 7.5, color: '#333', fontFamily: FONT, margin: 2.5, formatter: minus},
        splitLine: {show: false}});
series.push({type: 'scatter', xAxisIndex: sc.x, yAxisIndex: sc.y, data: agePoints2, symbolSize: 4.4, silent: true,
    itemStyle: {color: '#2F78C4', opacity: 0.92}});
series.push({type: 'line', xAxisIndex: sc.x, yAxisIndex: sc.y, data: fitLine, symbol: 'none', silent: true,
    lineStyle: {color: 'rgba(170,170,170,0.45)', width: 5}});
series.push({type: 'line', xAxisIndex: sc.x, yAxisIndex: sc.y, data: fitLine, symbol: 'none', silent: true,
    lineStyle: {color: '#000', width: 1.4}});
txt(344, 676, '{i|R} = 0.27 , {i|p} < 2.2 \u00d7 10\u207b\u00b9\u2076', {fontSize: 6.5, fill: '#222',
    rich: {i: {fontStyle: 'italic', fontSize: 6.5, fontFamily: FONT, fill: '#222'}}});

const chart = echarts.init(document.getElementById('chart'), null, {renderer: 'svg'});
chart.setOption({
    animation: false,
    backgroundColor: '#ffffff',
    textStyle: {fontFamily: FONT},
    grid: grids,
    xAxis: xAxis,
    yAxis: yAxis,
    legend: legend,
    graphic: graphic,
    series: series
});
</script>
</body>
</html>
